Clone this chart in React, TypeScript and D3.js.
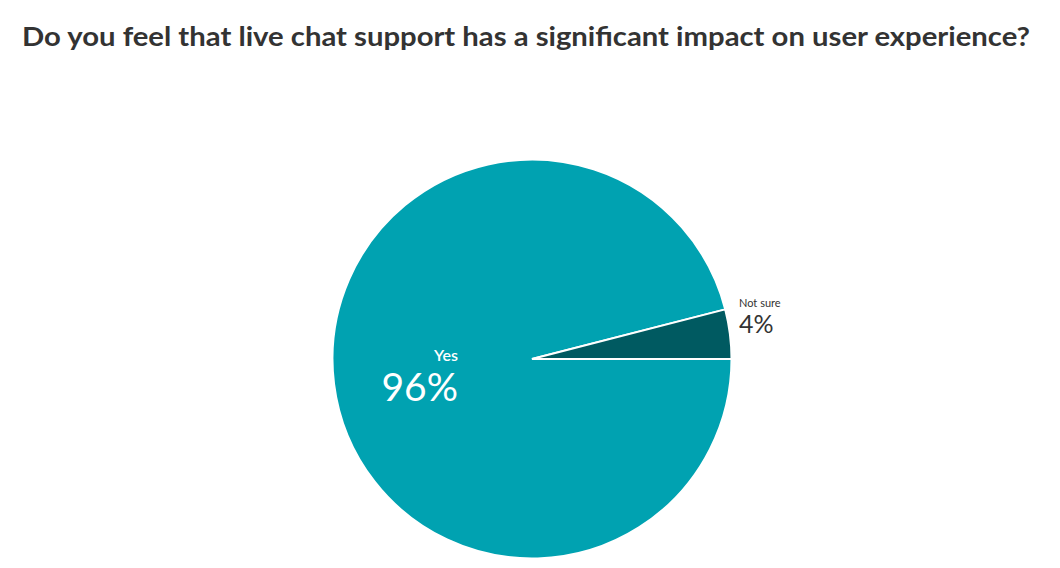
import React from "react";
import * as d3 from "d3";

const categories = ["Yes", "Not sure"];
const values = [96, 4];
const colors = ["#00A2B1", "#005A61"];
const title =
  "Do you feel that live chat support has a significant impact on user experience?";

const W = 1060;
const H = 568;
const cx = 532;
const cy = 359;
const R = 199.5;

export default function App() {
  const pie = d3
    .pie<number>()
    .sort(null)
    .startAngle(Math.PI / 2)
    .endAngle(Math.PI / 2 + 2 * Math.PI)(values);
  const arc = d3.arc<d3.PieArcDatum<number>>().innerRadius(0).outerRadius(R);
  const font = "Lato, 'Open Sans', sans-serif";
  return (
    <svg
      width={W}
      height={H}
      style={{ position: "absolute", left: 0, top: 0, background: "#fff" }}
    >
      <text
        x={22}
        y={46}
        textLength={1008}
        lengthAdjust="spacingAndGlyphs"
        fontFamily={font}
        fontWeight={700}
        fontSize={27}
        fill="#333"
      >
        {title}
      </text>
      <g transform={`translate(${cx},${cy})`}>
        {pie.map((d, i) => (
          <path
            key={categories[i]}
            d={arc(d) || ""}
            fill={colors[i]}
            stroke="#fff"
            strokeWidth={2}
          />
        ))}
      </g>
      <text x={458} y={361} textAnchor="end" fontFamily={font} fontSize={16} fontWeight={600} fill="#fff">
        {categories[0]}
      </text>
      <text x={458} y={401} textAnchor="end" fontFamily={font} fontSize={39} fill="#fff">
        {values[0]}%
      </text>
      <text x={739} y={307} fontFamily={font} fontSize={11} fill="#333">
        {categories[1]}
      </text>
      <text x={739} y={333} fontFamily={font} fontSize={25} fill="#333">
        {values[1]}%
      </text>
    </svg>
  );
}
